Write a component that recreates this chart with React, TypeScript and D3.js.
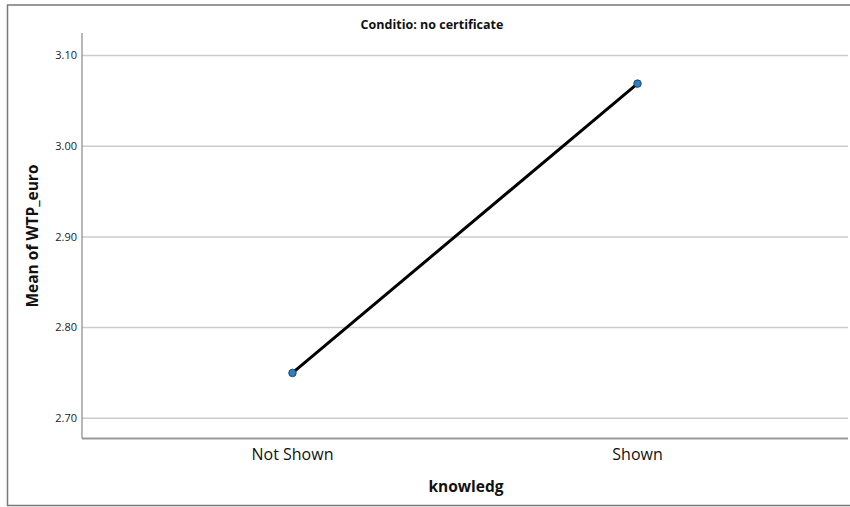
import React from "react";
import * as d3 from "d3";

const categories = ["Not Shown", "Shown"];
const means = [2.75, 3.069];
const yTicks = [2.7, 2.8, 2.9, 3.0, 3.1];
const chartTitle = "Conditio: no certificate";
const xTitle = "knowledg";
const yTitle = "Mean of WTP_euro";

const W = 850;
const H = 507;
const left = 82;
const right = 848;
const top = 33;
const bottom = 438.5;
const font = "'Open Sans', 'Noto Sans', sans-serif";

export default function App() {
  const x = d3.scalePoint<string>().domain(categories).range([left, right]).padding(0.61);
  const y = d3.scaleLinear().domain([2.7, 3.1]).range([418.3, 55.5]);
  const line = d3
    .line<number>()
    .x((_, i) => x(categories[i]) as number)
    .y((d) => y(d));

  return (
    <svg
      width={W}
      height={H}
      style={{ position: "absolute", left: 0, top: 0, background: "#fff" }}
      fontFamily={font}
    >
      <line x1={7} x2={850} y1={5} y2={5} stroke="#777" strokeWidth={1.5} />
      <line x1={7} x2={850} y1={505.5} y2={505.5} stroke="#777" strokeWidth={1.5} />
      <line x1={7.5} x2={7.5} y1={5} y2={506} stroke="#777" strokeWidth={1.5} />

      <text x={432} y={29} textAnchor="middle" fontSize={12.5} fontWeight="bold" fill="#111">
        {chartTitle}
      </text>

      {yTicks.map((t) => (
        <g key={t}>
          <line x1={left} x2={right} y1={y(t)} y2={y(t)} stroke="#ccc" strokeWidth={1.5} />
          <text x={77} y={y(t)} dy="0.35em" textAnchor="end" fontSize={11} fill="#222">
            {d3.format(".2f")(t)}
          </text>
        </g>
      ))}

      <line x1={left} x2={left} y1={top} y2={bottom} stroke="#888" strokeWidth={1.2} />
      <line x1={left} x2={right} y1={bottom} y2={bottom} stroke="#999" strokeWidth={2} />

      {categories.map((c) => (
        <text key={c} x={x(c)} y={460} textAnchor="middle" fontSize={16} fill="#111">
          {c}
        </text>
      ))}

      <text x={466} y={492} textAnchor="middle" fontSize={15.5} fontWeight="bold" fill="#111">
        {xTitle}
      </text>
      <text
        transform={`translate(38, 236) rotate(-90)`}
        textAnchor="middle"
        fontSize={15.5}
        fontWeight="bold"
        fill="#111"
      >
        {yTitle}
      </text>

      <path d={line(means) || ""} fill="none" stroke="#000" strokeWidth={3} />
      {means.map((m, i) => (
        <circle
          key={i}
          cx={x(categories[i])}
          cy={y(m)}
          r={3.8}
          fill="#2e7fc0"
          stroke="#1a3550"
          strokeWidth={0.8}
        />
      ))}
    </svg>
  );
}
